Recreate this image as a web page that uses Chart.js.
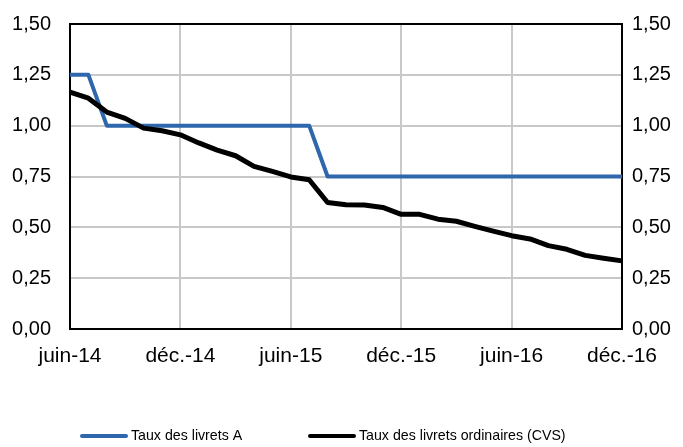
<!DOCTYPE html>
<html>
<head>
<meta charset="utf-8">
<script src="https://cdn.jsdelivr.net/npm/chart.js@4/dist/chart.umd.min.js"></script>
<style>
html,body{margin:0;padding:0;background:#fff;}
#wrap{width:683px;height:447px;}
</style>
</head>
<body>
<div id="wrap"><canvas id="c" width="683" height="447"></canvas></div>
<script>
const months = ["juin-14","juil.-14","août-14","sept.-14","oct.-14","nov.-14","déc.-14",
  "janv.-15","févr.-15","mars-15","avr.-15","mai-15","juin-15","juil.-15","août-15","sept.-15","oct.-15","nov.-15","déc.-15",
  "janv.-16","févr.-16","mars-16","avr.-16","mai-16","juin-16","juil.-16","août-16","sept.-16","oct.-16","nov.-16","déc.-16"];
const livretA = [1.25,1.25,1.00,1.00,1.00,1.00,1.00,1.00,1.00,1.00,1.00,1.00,1.00,1.00,
  0.75,0.75,0.75,0.75,0.75,0.75,0.75,0.75,0.75,0.75,0.75,0.75,0.75,0.75,0.75,0.75,0.75];
const livretsOrdinaires = [1.165,1.135,1.067,1.036,0.988,0.975,0.955,
  0.915,0.88,0.852,0.80,0.775,0.748,0.734,
  0.622,0.611,0.61,0.598,0.564,
  0.564,0.54,0.53,0.505,0.481,0.459,0.443,0.41,0.392,0.362,0.348,0.335];
const yTicks = [0,0.25,0.5,0.75,1,1.25,1.5];
const seriesNames = ["Taux des livrets A","Taux des livrets ordinaires (CVS)"];

const FONT = "'Liberation Sans', Arial, sans-serif";
const GRID = "#c8c8c8";
const fmt = v => v.toFixed(2).replace('.', ',');

const legendPlugin = {
  id: 'customLegend',
  afterDraw(chart) {
    const ctx = chart.ctx;
    const items = [{x:80, ds:chart.data.datasets[0]}, {x:308, ds:chart.data.datasets[1]}];
    const y = 436;
    ctx.save();
    items.forEach(it => {
      ctx.strokeStyle = it.ds.borderColor;
      ctx.lineWidth = 4;
      ctx.lineCap = 'round';
      ctx.beginPath();
      ctx.moveTo(it.x + 2, y);
      ctx.lineTo(it.x + 46, y);
      ctx.stroke();
      ctx.fillStyle = '#000';
      ctx.font = "14.2px " + FONT;
      ctx.textBaseline = 'middle';
      ctx.textAlign = 'left';
      ctx.fillText(it.ds.label, it.x + 51, y);
    });
    ctx.restore();
  }
};

function fixV(w) {
  return s => { s.width = w; s.paddingTop = 0; s.paddingBottom = 0; };
}

new Chart(document.getElementById('c'), {
  type: 'line',
  data: {
    labels: months,
    datasets: [
      {label: seriesNames[0], data: livretA, borderColor: '#2e67ac', borderWidth: 4, pointRadius: 0, tension: 0, order: 1, yAxisID: 'y', borderJoinStyle: 'round'},
      {label: seriesNames[1], data: livretsOrdinaires, borderColor: '#000000', borderWidth: 5, pointRadius: 0, tension: 0, order: 0, yAxisID: 'y', borderJoinStyle: 'round'}
    ]
  },
  options: {
    responsive: false,
    animation: false,
    layout: {padding: {top: 24, bottom: 78, left: 0, right: 0}},
    plugins: {legend: {display: false}, tooltip: {enabled: false}},
    scales: {
      x: {
        type: 'category',
        offset: false,
        grid: {
          color: c => (c.index % 6 === 0 ? GRID : 'rgba(0,0,0,0)'),
          lineWidth: 2,
          drawTicks: false
        },
        border: {color: '#000', width: 2},
        ticks: {
          autoSkip: false, maxRotation: 0, minRotation: 0,
          padding: 15,
          color: '#000',
          font: {family: FONT, size: 21},
          callback: function(v, i) { return i % 6 === 0 ? this.getLabelForValue(v) : ''; }
        },
        afterFit: s => { s.height = 40; s.paddingLeft = 0; s.paddingRight = 0; }
      },
      y: {
        position: 'left',
        min: 0, max: 1.5,
        afterBuildTicks: s => { s.ticks = yTicks.map(v => ({value: v})); },
        grid: {
          color: c => (c.tick && c.tick.value === 1.5 ? '#000' : GRID),
          lineWidth: 2,
          drawTicks: false
        },
        border: {color: '#000', width: 2},
        ticks: {padding: 19, color: '#000', font: {family: FONT, size: 20}, callback: v => fmt(v)},
        afterFit: fixV(70)
      },
      y1: {
        position: 'right',
        min: 0, max: 1.5,
        afterBuildTicks: s => { s.ticks = yTicks.map(v => ({value: v})); },
        grid: {drawOnChartArea: false, drawTicks: false},
        border: {color: '#000', width: 2},
        ticks: {padding: 10, color: '#000', font: {family: FONT, size: 20}, callback: v => fmt(v)},
        afterFit: fixV(61)
      }
    }
  },
  plugins: [legendPlugin]
});
</script>
</body>
</html>
